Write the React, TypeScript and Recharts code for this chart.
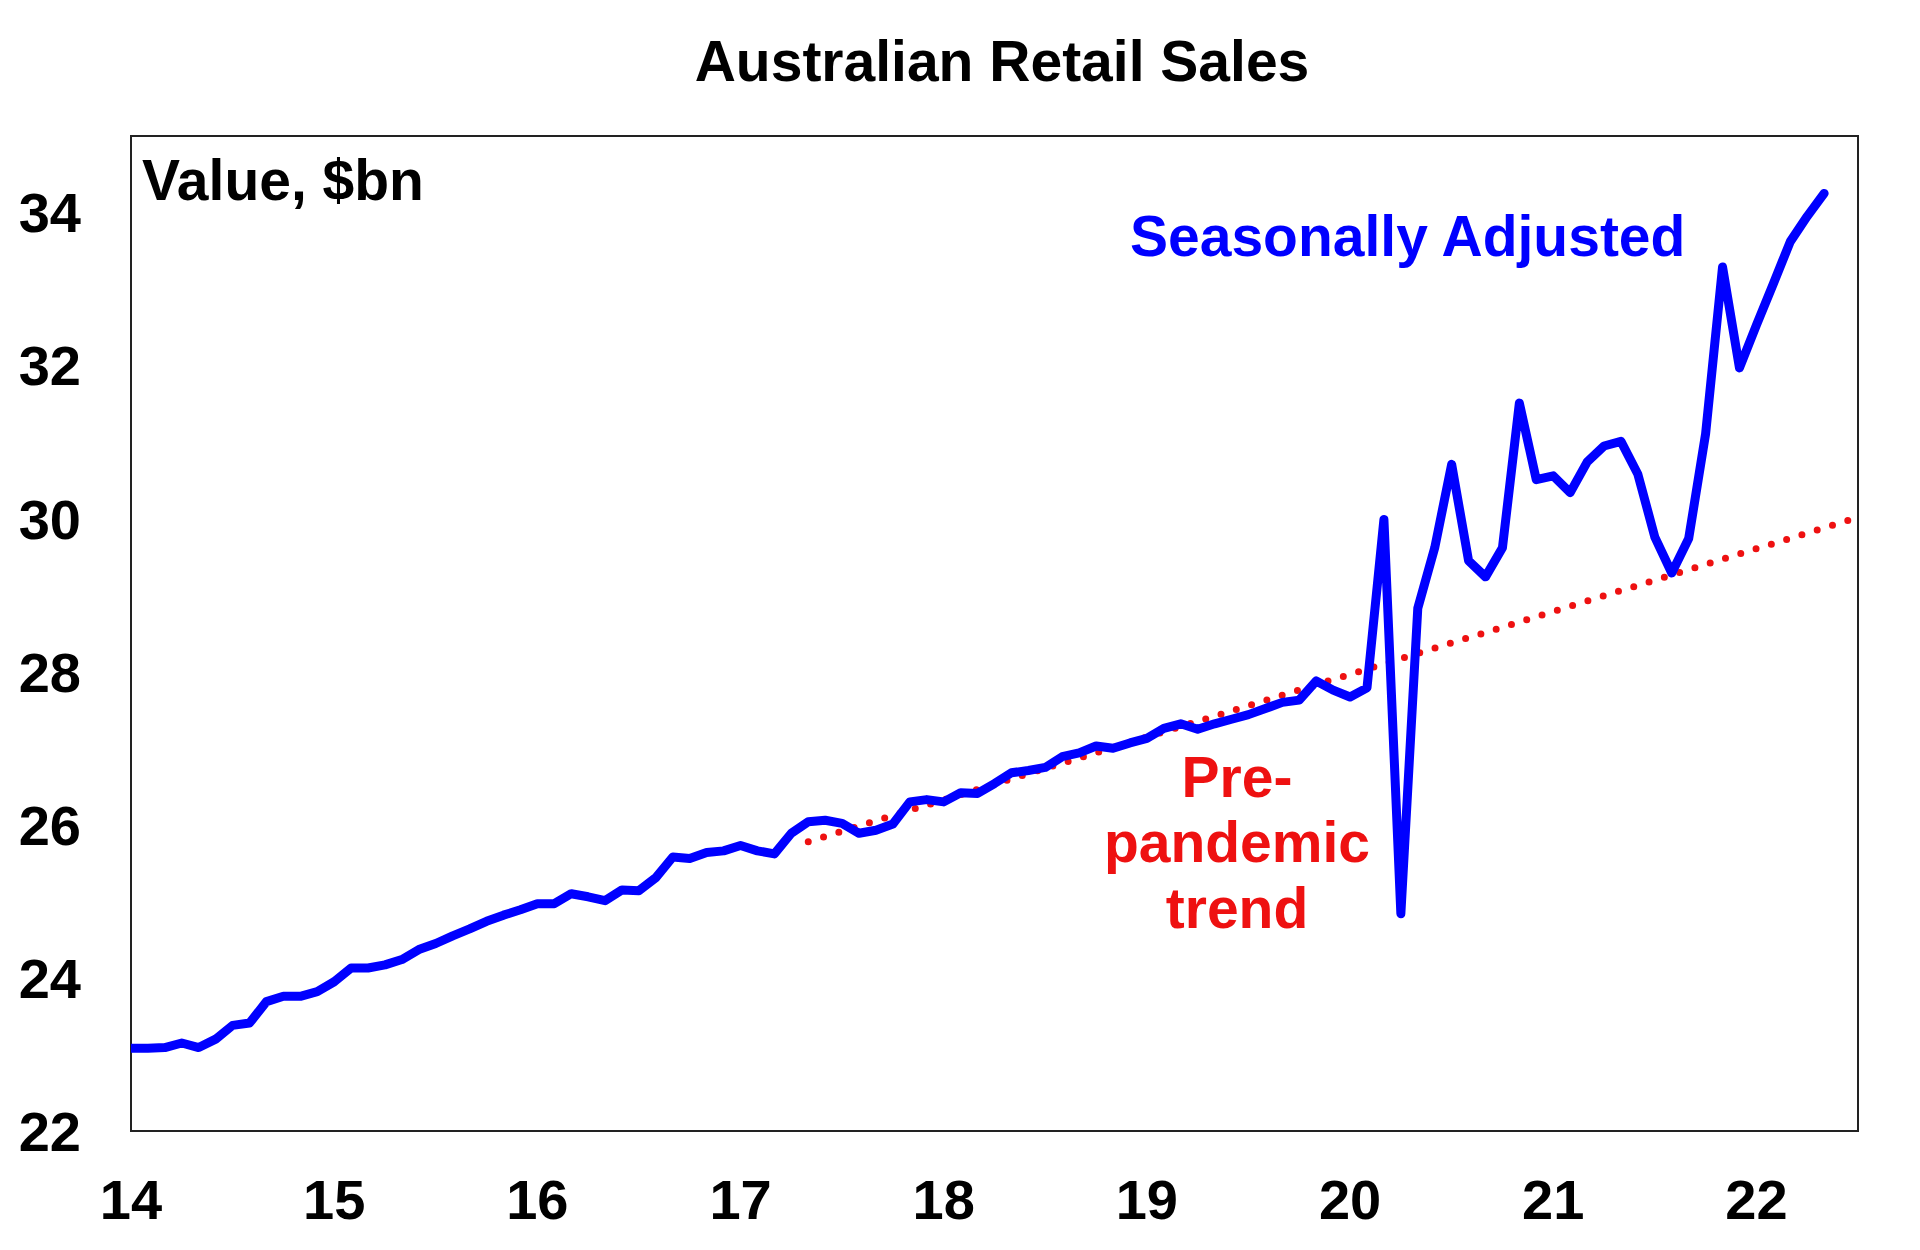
import React from 'react';
import { LineChart, Line, XAxis, YAxis, ReferenceArea } from 'recharts';

// monthly, Jan 2014 = month 0
const YEAR_LABELS = ['14', '15', '16', '17', '18', '19', '20', '21', '22'];
const Y_TICKS = [22, 24, 26, 28, 30, 32, 34];

const SALES = [
  23.08, 23.08, 23.09, 23.15, 23.09, 23.2, 23.38, 23.41, 23.69, 23.76, 23.76, 23.82,
  23.95, 24.13, 24.13, 24.17, 24.24, 24.37, 24.45, 24.55, 24.64, 24.74, 24.82, 24.89,
  24.97, 24.97, 25.1, 25.06, 25.01, 25.15, 25.14, 25.31, 25.58, 25.56, 25.64, 25.66,
  25.73, 25.66, 25.62, 25.89, 26.04, 26.06, 26.02, 25.89, 25.93, 26.01, 26.3, 26.33,
  26.3, 26.42, 26.41, 26.54, 26.68, 26.71, 26.75, 26.89, 26.94, 27.03, 27.0, 27.07,
  27.13, 27.26, 27.32, 27.25, 27.32, 27.38, 27.44, 27.52, 27.6, 27.63, 27.88, 27.76,
  27.67, 27.79, 29.99, 24.84, 28.83, 29.62, 30.71, 29.45, 29.24, 29.62, 31.51, 30.51,
  30.56, 30.34, 30.74, 30.95, 31.01, 30.58, 29.76, 29.29, 29.74, 31.11, 33.29, 31.97,
  32.53, 33.07, 33.62, 33.95, 34.25,
];

// pre-pandemic trend, start and end of the dotted line
const TREND_MONTHS = [40, 101.6];
const TREND_VALUES = [25.78, 29.99];

const X_TICKS = YEAR_LABELS.map((_, i) => i * 12);
const salesData = SALES.map((v, i) => ({ m: i, v }));
const trendData = TREND_MONTHS.map((m, i) => ({ m, t: TREND_VALUES[i] }));

const FONT = '"Liberation Sans", Arial, sans-serif';
const BLUE = '#0000ff';
const RED = '#ee1111';

export default function App() {
  return (
    <div style={{ position: 'absolute', left: 0, top: 0, width: 1920, height: 1250, background: '#fff' }}>
      <LineChart
        width={1920}
        height={1250}
        data={salesData}
        margin={{ top: 136, right: 62, bottom: 0, left: 0 }}
      >
        <ReferenceArea x1={0} x2={102} y1={22} y2={35} fill="none" stroke="#222" strokeWidth={2} />
        <XAxis
          dataKey="m"
          type="number"
          domain={[0, 102]}
          ticks={X_TICKS}
          tickFormatter={(m: number) => YEAR_LABELS[Math.round(m / 12)]}
          allowDataOverflow
          axisLine={false}
          tickLine={false}
          tickSize={0}
          tickMargin={48}
          height={119}
          tick={{ fill: '#000', fontSize: 56, fontWeight: 700, fontFamily: FONT }}
        />
        <YAxis
          type="number"
          domain={[22, 35]}
          ticks={Y_TICKS}
          allowDataOverflow
          axisLine={false}
          tickLine={false}
          tickSize={0}
          tickMargin={50}
          width={131}
          tick={{ fill: '#000', fontSize: 56, fontWeight: 700, fontFamily: FONT }}
        />
        <Line
          data={trendData}
          dataKey="t"
          type="linear"
          stroke={RED}
          strokeWidth={7}
          strokeDasharray="0 16"
          strokeLinecap="round"
          dot={false}
          isAnimationActive={false}
        />
        <Line
          dataKey="v"
          type="linear"
          stroke={BLUE}
          strokeWidth={9}
          strokeLinejoin="round"
          strokeLinecap="round"
          dot={false}
          isAnimationActive={false}
        />
      </LineChart>
      <svg
        width={1920}
        height={1250}
        style={{ position: 'absolute', left: 0, top: 0, pointerEvents: 'none' }}
        fontFamily={FONT}
        fontWeight={700}
      >
        <text x={1002} y={81} fontSize={57} textAnchor="middle" fill="#000">
          Australian Retail Sales
        </text>
        <text x={142} y={200} fontSize={57} fill="#000">
          Value, $bn
        </text>
        <text x={1130} y={256} fontSize={57} fill={BLUE}>
          Seasonally Adjusted
        </text>
        <text x={1237} y={797} fontSize={57} textAnchor="middle" fill={RED}>
          Pre-
        </text>
        <text x={1237} y={862} fontSize={57} textAnchor="middle" fill={RED}>
          pandemic
        </text>
        <text x={1237} y={928} fontSize={57} textAnchor="middle" fill={RED}>
          trend
        </text>
      </svg>
    </div>
  );
}
